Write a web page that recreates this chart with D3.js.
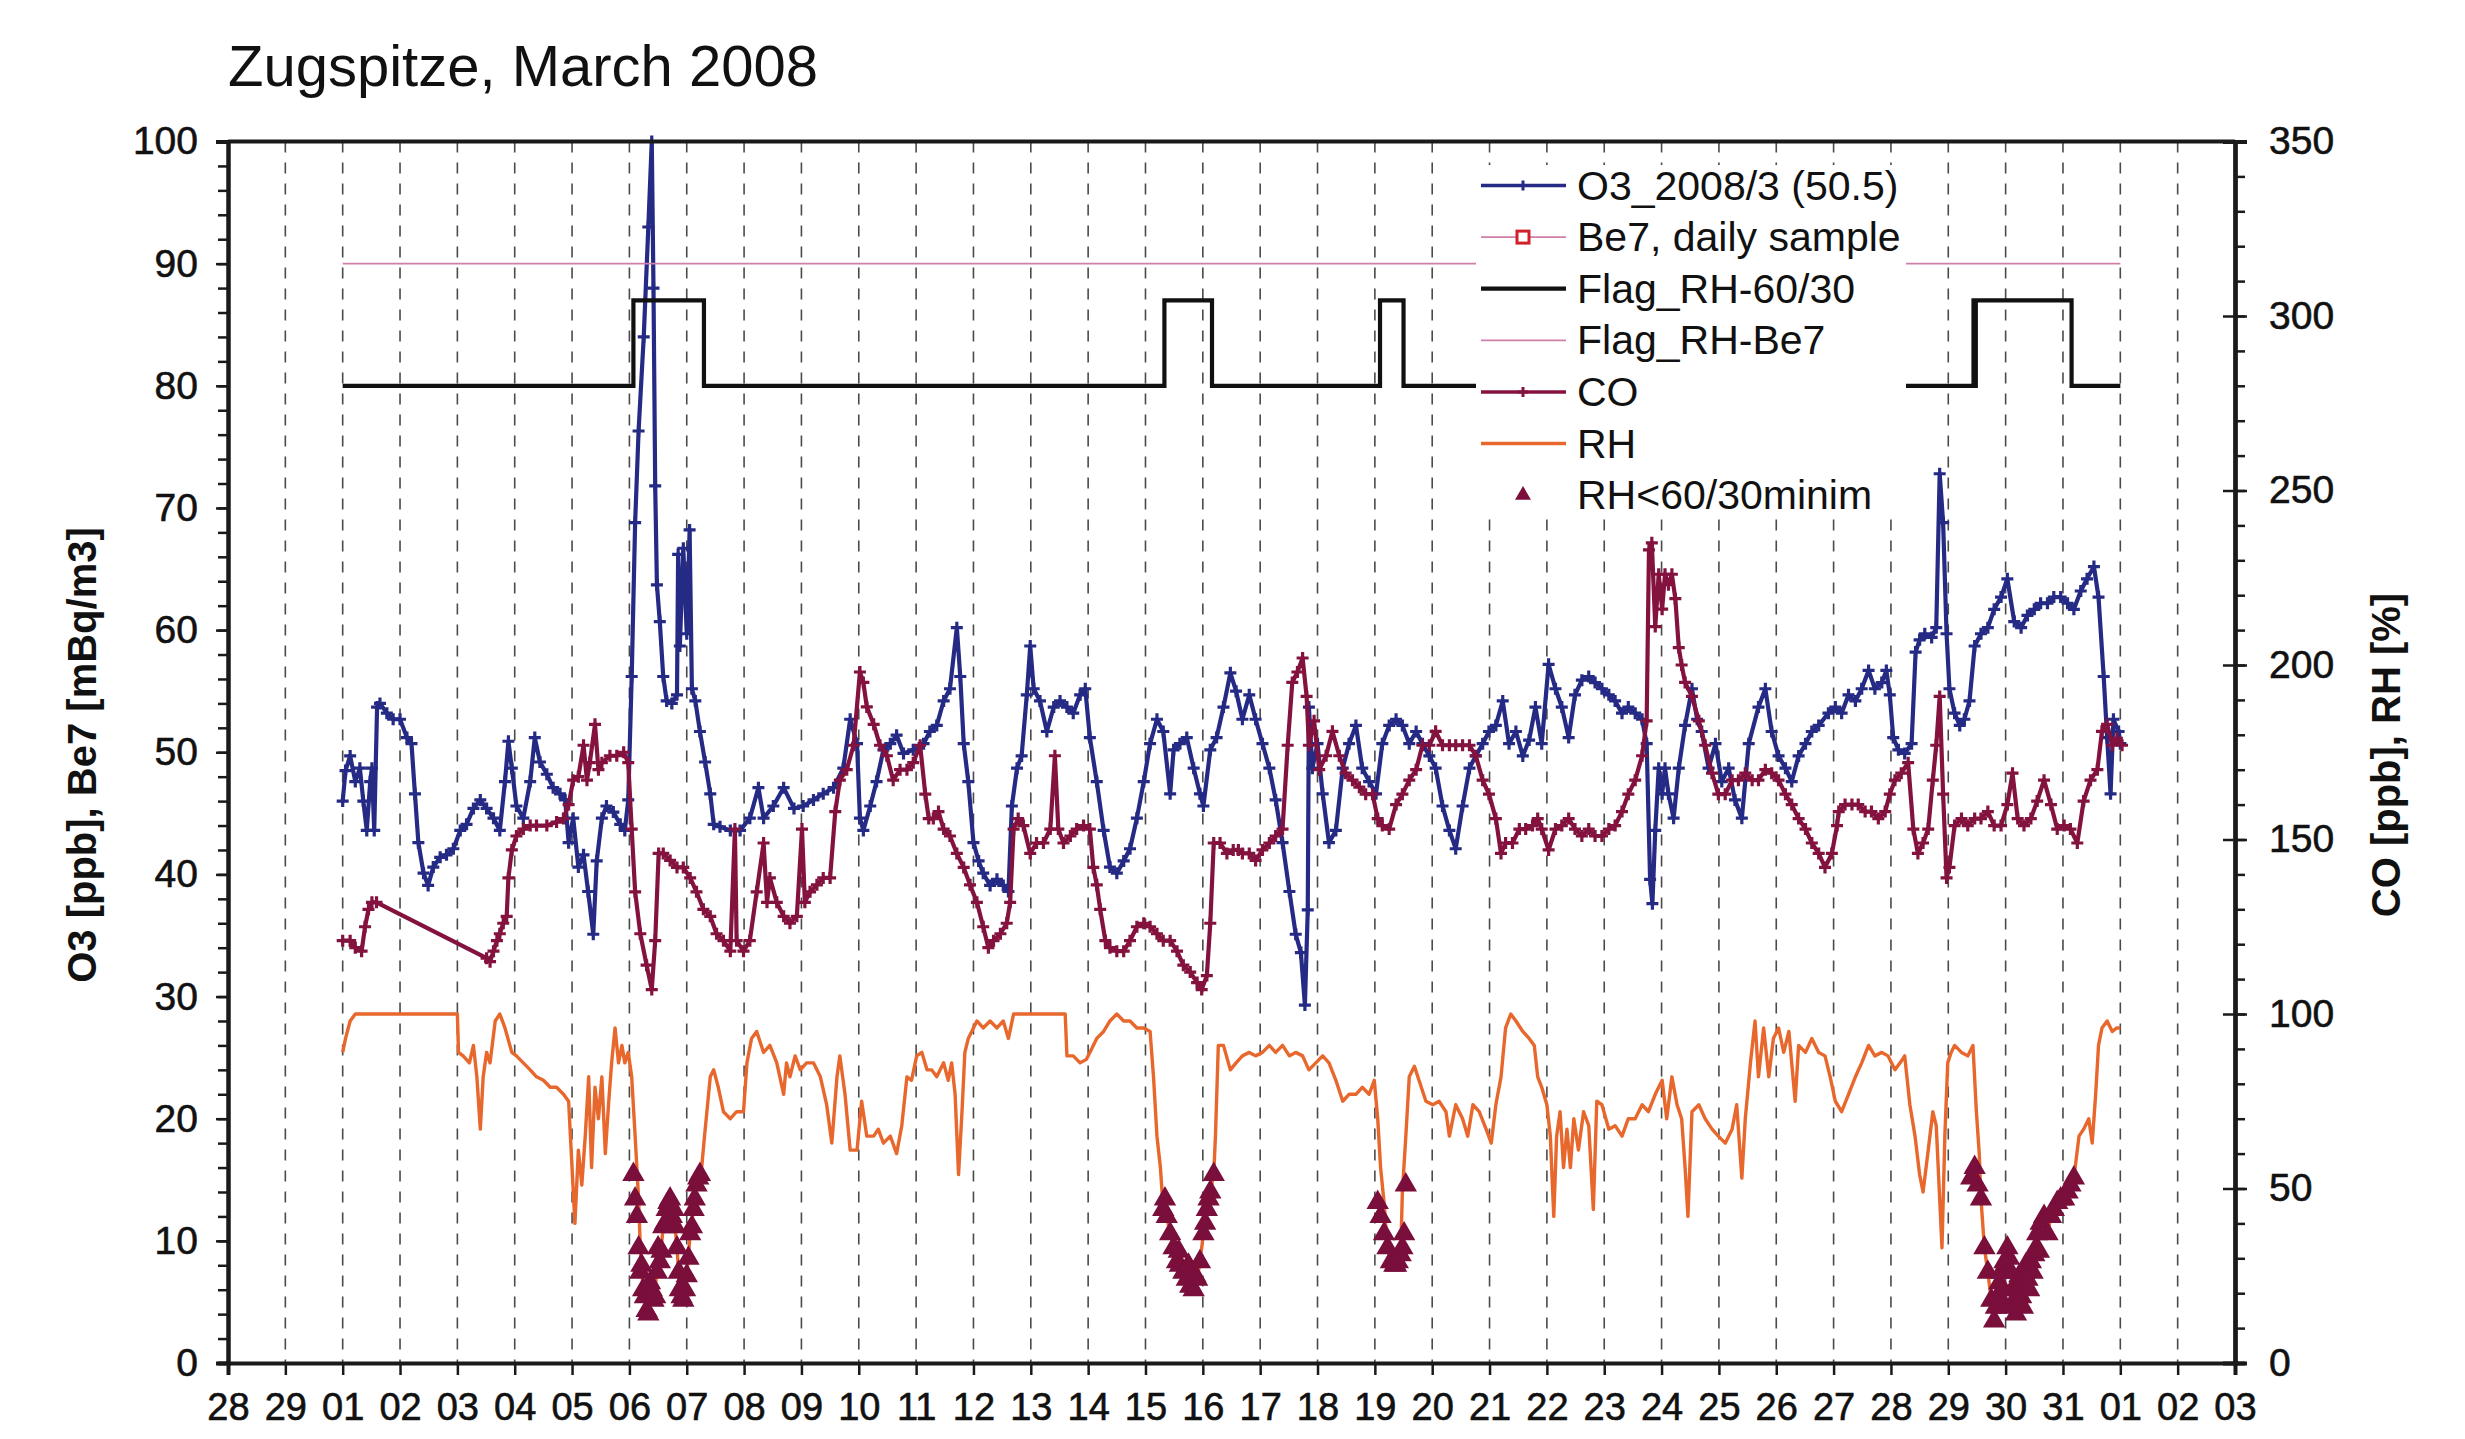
<!DOCTYPE html>
<html>
<head>
<meta charset="utf-8">
<script src="https://cdn.jsdelivr.net/npm/d3@7"></script>
<style>
  body { margin: 0; background: #ffffff; }
  text { font-family: "Liberation Sans", Arial, Helvetica, sans-serif; fill: #111; }
</style>
</head>
<body>
<svg id="chart" width="2465" height="1439"></svg>
<script>
// ---- Data (time as fractional March day: 1.0 = 1 March 00:00) ----
const dayLabels = ["28","29","01","02","03","04","05","06","07","08","09","10","11","12","13","14","15","16","17","18","19","20","21","22","23","24","25","26","27","28","29","30","31","01","02","03"];
const leftTicks = [0,10,20,30,40,50,60,70,80,90,100];
const rightTicks = [0,50,100,150,200,250,300,350];

// Ozone [ppb]
const o3 = [[1.00,46],[1.05,48.5],[1.13,49.7],[1.22,47.6],[1.30,48.7],[1.36,46],[1.42,43.6],[1.48,47.6],[1.51,48.7],[1.55,43.6],[1.60,53.7],[1.65,54],[1.77,53.2],[1.88,52.7],[2.00,52.7],[2.12,51.2],[2.20,50.7],[2.26,46.6],[2.32,42.6],[2.41,40.1],[2.49,39.1],[2.58,40.6],[2.70,41.4],[2.81,41.6],[2.93,42.1],[3.05,43.6],[3.16,44.1],[3.28,45.4],[3.40,46.1],[3.51,45.4],[3.63,44.6],[3.74,43.6],[3.83,47.6],[3.89,50.9],[3.95,48.7],[4.03,45.6],[4.15,44.6],[4.27,47.6],[4.35,51.2],[4.44,49.2],[4.56,48.2],[4.67,47.1],[4.79,46.6],[4.88,46.1],[4.94,42.6],[5.02,44.6],[5.11,40.6],[5.20,41.6],[5.28,38.6],[5.37,35.1],[5.43,41.1],[5.52,44.6],[5.60,45.6],[5.72,45.1],[5.84,44.1],[5.92,43.6],[5.98,46.1],[6.04,56.2],[6.10,68.8],[6.16,76.3],[6.25,84],[6.33,93],[6.39,100],[6.42,88],[6.45,71.8],[6.48,63.7],[6.53,60.7],[6.59,56.2],[6.65,54.2],[6.74,54],[6.83,54.7],[6.85,66.2],[6.88,58.7],[6.94,66.7],[7.00,59.7],[7.05,68.2],[7.09,55.2],[7.15,54.2],[7.23,51.7],[7.32,49.2],[7.41,46.6],[7.47,44.1],[7.58,43.9],[7.76,43.6],[7.93,43.6],[8.10,44.6],[8.25,47.1],[8.34,44.6],[8.51,45.6],[8.69,47.1],[8.87,45.4],[9.03,45.6],[9.21,46.1],[9.38,46.6],[9.56,47.1],[9.73,48.7],[9.85,52.7],[9.97,50.7],[10.02,44.6],[10.08,43.6],[10.20,45.6],[10.31,47.6],[10.43,50.2],[10.55,50.7],[10.66,51.4],[10.78,49.9],[10.95,50.2],[11.13,50.7],[11.24,51.7],[11.36,52.2],[11.48,54.2],[11.59,55.2],[11.71,60.2],[11.77,56.2],[11.83,50.7],[11.91,47.6],[12.00,42.6],[12.09,41.1],[12.17,40.1],[12.29,39.1],[12.41,39.6],[12.52,39.1],[12.61,38.6],[12.67,45.6],[12.76,48.7],[12.84,49.7],[12.93,54.7],[12.99,58.7],[13.05,55.2],[13.16,54.2],[13.28,51.7],[13.40,53.7],[13.51,54.2],[13.63,53.7],[13.74,53.2],[13.86,54.7],[13.95,55.2],[14.03,51.2],[14.15,47.6],[14.27,43.6],[14.38,40.6],[14.50,40.1],[14.62,41.1],[14.73,42.1],[14.85,44.6],[14.97,47.6],[15.08,50.7],[15.20,52.7],[15.31,51.7],[15.43,46.6],[15.49,50.2],[15.60,50.7],[15.72,51.2],[15.84,48.7],[15.95,46.6],[16.01,45.6],[16.13,50.2],[16.24,51.2],[16.36,53.7],[16.48,56.5],[16.58,55.0],[16.69,52.7],[16.81,54.7],[16.92,52.7],[17.04,50.7],[17.16,48.7],[17.27,46.1],[17.39,42.6],[17.51,38.6],[17.62,35.1],[17.71,33.6],[17.78,29.3],[17.83,37.1],[17.85,53.7],[17.91,48.7],[18.00,50.7],[18.09,46.6],[18.20,42.6],[18.32,43.6],[18.44,48.7],[18.55,50.7],[18.67,52.2],[18.78,48.7],[18.90,47.6],[19.02,46.6],[19.13,50.7],[19.25,52.2],[19.37,52.7],[19.48,52.2],[19.60,50.7],[19.72,51.7],[19.83,50.7],[19.95,49.7],[20.06,48.7],[20.18,45.6],[20.30,43.6],[20.41,42.1],[20.53,45.6],[20.65,48.7],[20.76,49.7],[20.88,50.7],[20.99,51.7],[21.11,52.2],[21.23,54.2],[21.34,50.7],[21.46,51.7],[21.58,49.7],[21.69,51.0],[21.80,53.7],[21.91,50.7],[22.03,57.2],[22.15,55.2],[22.26,53.7],[22.38,51.2],[22.49,54.7],[22.61,55.9],[22.73,56.2],[22.84,55.7],[22.96,55.2],[23.08,54.7],[23.19,54.2],[23.31,53.2],[23.42,53.7],[23.54,53.2],[23.66,52.7],[23.74,50.7],[23.80,39.6],[23.84,37.6],[23.89,43.6],[23.95,48.7],[24.01,46.6],[24.06,48.7],[24.12,46.6],[24.21,44.6],[24.30,48.7],[24.41,52.2],[24.53,55.2],[24.62,52.7],[24.70,51.7],[24.82,48.7],[24.94,50.7],[25.05,47.6],[25.17,48.7],[25.28,46.1],[25.40,44.6],[25.52,50.7],[25.69,53.7],[25.81,55.2],[25.92,51.7],[26.04,49.7],[26.16,48.7],[26.27,47.6],[26.39,49.7],[26.51,50.7],[26.62,51.7],[26.74,52.2],[26.91,53.2],[27.03,53.7],[27.14,53.2],[27.26,54.7],[27.38,54.2],[27.49,55.2],[27.61,56.7],[27.72,55.2],[27.84,55.7],[27.92,56.7],[27.98,54.7],[28.04,51.2],[28.13,50.2],[28.24,49.9],[28.36,50.7],[28.43,58.2],[28.50,59.2],[28.59,59.7],[28.71,59.4],[28.79,60.2],[28.85,72.8],[28.91,68.8],[28.97,59.7],[29.02,55.2],[29.11,53.2],[29.20,52.2],[29.28,52.7],[29.37,54.2],[29.46,58.7],[29.57,59.7],[29.69,60.2],[29.80,61.7],[29.92,62.7],[30.03,64.2],[30.15,60.7],[30.27,60.2],[30.38,61.2],[30.50,61.7],[30.61,62.2],[30.73,62.2],[30.84,62.7],[30.96,62.7],[31.08,62.2],[31.19,61.7],[31.31,63.2],[31.42,64.2],[31.54,65.2],[31.62,62.7],[31.71,56.2],[31.77,51.2],[31.83,46.6],[31.88,52.7],[31.97,51.7],[32.00,50.7]];

// Carbon monoxide [ppb]
const co = [[1.00,121],[1.13,121],[1.22,119],[1.33,118],[1.39,125],[1.45,130],[1.51,132],[1.59,132],[3.51,116],[3.57,115],[3.63,118],[3.69,121],[3.74,123],[3.80,126],[3.86,128],[3.89,139],[3.95,147],[4.03,151],[4.15,153],[4.27,154],[4.38,154],[4.56,154],[4.73,155],[4.85,156],[4.94,160],[5.02,167],[5.11,168],[5.20,177],[5.26,167],[5.31,172],[5.40,183],[5.46,170],[5.52,172],[5.66,174],[5.78,174],[5.90,175],[5.98,172],[6.04,153],[6.10,135],[6.19,123],[6.30,114],[6.39,107],[6.45,121],[6.51,146],[6.59,146],[6.71,144],[6.83,142],[6.94,142],[7.06,139],[7.17,135],[7.29,130],[7.41,128],[7.52,123],[7.64,121],[7.76,118],[7.84,153],[7.87,121],[7.99,118],[8.10,121],[8.22,135],[8.34,149],[8.40,132],[8.45,139],[8.57,132],[8.69,128],[8.80,126],[8.92,128],[9.01,153],[9.06,132],[9.15,135],[9.27,137],[9.38,139],[9.50,139],[9.59,158],[9.67,167],[9.79,170],[9.91,177],[10.02,198],[10.08,195],[10.14,188],[10.26,183],[10.37,177],[10.49,174],[10.60,167],[10.72,170],[10.84,170],[10.95,172],[11.07,177],[11.16,163],[11.22,156],[11.30,156],[11.39,158],[11.48,153],[11.59,151],[11.71,146],[11.83,142],[11.94,137],[12.06,132],[12.17,125],[12.26,119],[12.35,121],[12.47,123],[12.58,126],[12.64,132],[12.70,153],[12.78,156],[12.87,154],[12.99,146],[13.10,149],[13.22,149],[13.34,153],[13.42,174],[13.48,153],[13.57,149],[13.69,151],[13.80,153],[13.92,154],[14.03,153],[14.09,142],[14.15,137],[14.21,130],[14.30,121],[14.38,119],[14.50,118],[14.62,118],[14.73,121],[14.85,125],[14.97,126],[15.08,125],[15.20,123],[15.31,121],[15.43,121],[15.55,118],[15.66,114],[15.78,112],[15.90,109],[15.98,107],[16.07,111],[16.13,126],[16.19,149],[16.30,149],[16.42,146],[16.53,147],[16.62,147],[16.69,146],[16.81,146],[16.92,144],[17.04,147],[17.16,149],[17.27,151],[17.39,153],[17.48,177],[17.56,195],[17.65,198],[17.74,202],[17.81,191],[17.85,177],[17.94,184],[18.03,170],[18.15,174],[18.26,181],[18.38,174],[18.49,169],[18.61,167],[18.73,165],[18.84,163],[18.96,163],[19.05,156],[19.13,154],[19.25,153],[19.37,160],[19.48,163],[19.60,167],[19.72,170],[19.83,177],[19.95,177],[20.06,181],[20.18,177],[20.30,177],[20.41,177],[20.53,177],[20.65,177],[20.76,174],[20.88,167],[20.99,163],[21.11,156],[21.20,146],[21.28,149],[21.40,149],[21.52,153],[21.63,153],[21.75,154],[21.84,156],[21.91,153],[22.03,147],[22.15,153],[22.26,154],[22.38,156],[22.49,153],[22.61,151],[22.73,153],[22.84,151],[22.96,151],[23.08,153],[23.19,154],[23.31,158],[23.42,163],[23.54,167],[23.66,174],[23.74,184],[23.78,233],[23.83,235],[23.89,211],[23.95,226],[24.01,216],[24.06,226],[24.12,223],[24.18,226],[24.24,219],[24.30,205],[24.35,200],[24.41,195],[24.53,191],[24.65,184],[24.76,177],[24.88,169],[24.99,163],[25.11,163],[25.23,167],[25.34,167],[25.46,169],[25.58,167],[25.69,167],[25.81,170],[25.92,169],[26.04,167],[26.16,163],[26.27,160],[26.39,156],[26.51,153],[26.62,149],[26.74,146],[26.85,142],[26.97,146],[27.06,154],[27.09,158],[27.20,160],[27.32,160],[27.43,160],[27.55,158],[27.66,158],[27.78,156],[27.90,158],[27.98,163],[28.07,167],[28.18,169],[28.30,172],[28.39,153],[28.47,146],[28.56,149],[28.65,153],[28.73,167],[28.79,177],[28.85,191],[28.91,163],[28.97,139],[29.02,142],[29.11,154],[29.23,156],[29.34,154],[29.46,156],[29.57,156],[29.69,158],[29.80,154],[29.92,154],[30.03,160],[30.12,169],[30.21,156],[30.32,154],[30.44,156],[30.55,161],[30.67,167],[30.79,160],[30.90,153],[31.02,154],[31.13,153],[31.25,149],[31.36,161],[31.48,167],[31.60,170],[31.68,181],[31.77,183],[31.86,177],[31.94,179],[32.03,177]];

// Relative humidity [%]
const rh = [[1.00,89],[1.05,93],[1.13,98],[1.22,100],[3.00,100],[3.02,89],[3.10,88],[3.21,86],[3.28,91],[3.34,82],[3.40,67],[3.45,82],[3.51,89],[3.57,86],[3.66,98],[3.74,100],[3.83,96],[3.95,89],[4.03,88],[4.15,86],[4.27,84],[4.38,82],[4.50,81],[4.62,79],[4.73,79],[4.85,77],[4.94,75],[5.00,56],[5.05,40],[5.11,61],[5.17,51],[5.23,65],[5.29,82],[5.34,56],[5.40,79],[5.46,70],[5.52,82],[5.58,60],[5.64,75],[5.69,86],[5.75,96],[5.81,86],[5.87,91],[5.92,86],[5.98,89],[6.04,82],[6.10,65],[6.16,47],[6.19,33],[6.24,21],[6.30,15],[6.36,23],[6.42,18],[6.48,26],[6.53,29],[6.59,39],[6.65,44],[6.71,47],[6.77,44],[6.83,33],[6.88,21],[6.94,18],[7.00,25],[7.06,37],[7.12,44],[7.17,51],[7.23,54],[7.26,56],[7.31,65],[7.41,82],[7.47,84],[7.55,79],[7.64,72],[7.76,70],[7.87,72],[7.99,72],[8.05,86],[8.13,93],[8.22,95],[8.34,89],[8.45,91],[8.57,86],[8.69,77],[8.74,86],[8.80,82],[8.89,88],[8.98,84],[9.09,86],[9.21,86],[9.33,82],[9.44,74],[9.53,63],[9.62,82],[9.67,88],[9.76,77],[9.85,61],[9.97,61],[10.05,75],[10.14,65],[10.26,65],[10.34,67],[10.43,63],[10.55,65],[10.66,60],[10.75,68],[10.84,82],[10.92,81],[11.01,88],[11.10,89],[11.19,84],[11.27,84],[11.36,82],[11.48,86],[11.56,81],[11.62,86],[11.68,77],[11.74,54],[11.80,72],[11.85,89],[11.91,93],[12.00,96],[12.06,98],[12.17,96],[12.29,98],[12.41,96],[12.52,98],[12.61,93],[12.70,100],[13.60,100],[13.63,88],[13.74,88],[13.86,86],[13.97,87],[14.03,89],[14.15,93],[14.27,95],[14.38,98],[14.50,100],[14.62,98],[14.73,98],[14.85,96],[14.97,96],[15.08,95],[15.14,82],[15.20,65],[15.26,56],[15.31,44],[15.37,42],[15.43,37],[15.49,33],[15.55,29],[15.60,28],[15.66,26],[15.72,24],[15.78,22],[15.84,21],[15.90,24],[15.95,29],[16.01,37],[16.07,44],[16.13,49],[16.19,54],[16.22,65],[16.27,91],[16.36,91],[16.48,84],[16.58,86],[16.69,88],[16.81,89],[16.92,88],[17.04,89],[17.16,91],[17.27,89],[17.39,91],[17.51,88],[17.62,89],[17.74,88],[17.85,84],[17.97,86],[18.09,88],[18.20,86],[18.32,81],[18.44,75],[18.55,77],[18.67,77],[18.78,79],[18.90,77],[18.99,81],[19.05,70],[19.10,56],[19.16,46],[19.22,33],[19.28,29],[19.34,28],[19.40,29],[19.45,31],[19.48,49],[19.54,65],[19.60,82],[19.69,85],[19.77,81],[19.89,75],[20.01,74],[20.12,75],[20.24,72],[20.30,65],[20.41,74],[20.53,70],[20.62,65],[20.71,74],[20.82,72],[20.94,67],[21.03,63],[21.11,74],[21.20,82],[21.28,96],[21.37,100],[21.46,98],[21.58,95],[21.69,93],[21.78,91],[21.84,82],[21.91,79],[22.00,74],[22.06,65],[22.12,42],[22.17,65],[22.23,72],[22.29,56],[22.35,67],[22.41,56],[22.47,70],[22.55,61],[22.64,72],[22.73,68],[22.81,44],[22.87,75],[22.96,74],[23.08,67],[23.19,68],[23.31,65],[23.42,70],[23.54,70],[23.66,74],[23.77,72],[23.89,77],[24.01,81],[24.09,70],[24.18,82],[24.27,74],[24.35,70],[24.41,56],[24.46,42],[24.53,72],[24.65,74],[24.76,70],[24.88,67],[24.99,65],[25.11,63],[25.23,67],[25.31,74],[25.40,53],[25.46,70],[25.55,86],[25.63,98],[25.69,82],[25.78,96],[25.87,82],[25.95,93],[26.04,96],[26.13,89],[26.22,95],[26.33,75],[26.39,91],[26.51,89],[26.62,93],[26.74,89],[26.85,88],[26.94,82],[27.03,75],[27.14,72],[27.26,77],[27.38,82],[27.49,86],[27.61,91],[27.72,88],[27.84,89],[27.95,88],[28.07,84],[28.16,86],[28.24,88],[28.33,74],[28.42,65],[28.50,54],[28.56,49],[28.65,61],[28.73,72],[28.79,68],[28.85,47],[28.89,33],[28.94,65],[28.99,86],[29.05,89],[29.11,91],[29.23,89],[29.34,88],[29.43,91],[29.49,72],[29.54,60],[29.57,47],[29.63,33],[29.69,26],[29.75,18],[29.80,12],[29.86,19],[29.92,26],[29.98,29],[30.03,33],[30.09,26],[30.15,18],[30.21,23],[30.27,19],[30.32,26],[30.38,24],[30.44,29],[30.50,31],[30.55,37],[30.61,40],[30.67,42],[30.73,37],[30.79,42],[30.84,44],[30.90,46],[30.96,47],[31.02,47],[31.08,49],[31.13,51],[31.19,53],[31.28,65],[31.36,67],[31.45,70],[31.51,63],[31.57,77],[31.62,91],[31.68,96],[31.77,98],[31.86,95],[31.94,96],[32.00,96]];

// Hours with RH below 60 % (30-min minimum), RH [%]
const rhLow = [[6.07,54],[6.10,47],[6.13,42],[6.16,33],[6.19,26],[6.21,28],[6.24,21],[6.27,19],[6.30,15],[6.33,14],[6.36,23],[6.39,21],[6.42,18],[6.45,19],[6.48,26],[6.50,33],[6.53,29],[6.56,32],[6.59,39],[6.62,40],[6.65,44],[6.68,46],[6.71,47],[6.74,42],[6.77,44],[6.80,39],[6.83,33],[6.86,26],[6.88,21],[6.91,19],[6.94,18],[6.97,21],[7.00,25],[7.03,30],[7.06,37],[7.09,39],[7.12,44],[7.14,47],[7.17,51],[7.20,53],[7.23,54],
  [15.31,44],[15.34,47],[15.37,42],[15.43,37],[15.49,33],[15.55,29],[15.58,32],[15.60,28],[15.66,26],[15.72,24],[15.75,28],[15.78,22],[15.84,21],[15.87,25],[15.90,24],[15.95,29],[16.01,37],[16.04,40],[16.07,44],[16.10,47],[16.13,49],[16.19,54],
  [19.05,46],[19.10,42],[19.16,37],[19.22,33],[19.28,29],[19.34,28],[19.37,28],[19.40,29],[19.45,31],[19.48,33],[19.51,37],[19.54,51],
  [29.40,53],[29.46,56],[29.51,51],[29.57,47],[29.63,33],[29.69,26],[29.75,18],[29.80,12],[29.83,16],[29.86,19],[29.89,23],[29.92,26],[29.95,21],[29.98,29],[30.00,16],[30.03,33],[30.06,30],[30.09,26],[30.12,21],[30.15,18],[30.18,14],[30.21,23],[30.24,25],[30.27,19],[30.30,16],[30.32,26],[30.35,28],[30.38,24],[30.41,21],[30.44,29],[30.47,26],[30.50,31],[30.53,33],[30.55,37],[30.58,32],[30.61,40],[30.67,42],[30.73,37],[30.79,42],[30.84,44],[30.90,46],[30.96,47],[31.02,47],[31.08,49],[31.13,51],[31.19,53]];

// Flag series drawn on the left scale (step levels)
const flagRH = [[1.00,80],[6.07,87],[7.30,80],[15.33,87],[16.16,80],[19.09,87],[19.50,80],[29.44,87],[29.46,80],[29.48,87],[31.15,80],[32.00,80]];
const flagBe7 = [[1.00,90],[32.00,90]];
const be7Daily = []; // no daily samples available for this month

// ---- Layout ----
const svg = d3.select("#chart");
const M = { l: 228, r: 2235, t: 141.5, b: 1363 };
const toDate = d => new Date(Date.UTC(2008, 2, 1) + (d - 1) * 864e5);

const x = d3.scaleUtc()
  .domain([new Date(Date.UTC(2008, 1, 28)), new Date(Date.UTC(2008, 3, 3))])
  .range([M.l, M.r]);
const yL = d3.scaleLinear().domain([0, 100]).range([M.b, M.t]);
const yR = d3.scaleLinear().domain([0, 350]).range([M.b, M.t]);

const dayTicks = d3.utcDay.range(x.domain()[0], d3.utcDay.offset(x.domain()[1], 1));

// colours
const C = {
  o3: "#252a85",
  co: "#84123f",
  rh: "#e8672c",
  tri: "#7a0f3c",
  flag: "#111111",
  be7: "#cf7fa8",
  grid: "#4a4a4a",
  axis: "#1a1a1a"
};

// ---- Dashed day grid ----
svg.append("g")
  .selectAll("line")
  .data(dayTicks.slice(1, -1))
  .join("line")
  .attr("x1", d => x(d)).attr("x2", d => x(d))
  .attr("y1", M.t).attr("y2", M.b)
  .attr("stroke", C.grid)
  .attr("stroke-width", 1.6)
  .attr("stroke-dasharray", "11,10");

// ---- Series ----
const lineL = d3.line().x(d => x(toDate(d[0]))).y(d => yL(d[1]));
const lineR = d3.line().x(d => x(toDate(d[0]))).y(d => yR(d[1]));
const plusPath = "M-6,0H6M0,-6V6";

// O3 with plus markers
svg.append("path").datum(o3)
  .attr("d", lineL).attr("fill", "none")
  .attr("stroke", C.o3).attr("stroke-width", 4.2).attr("stroke-linejoin", "round");
svg.append("g").selectAll("path").data(o3).join("path")
  .attr("transform", d => `translate(${x(toDate(d[0]))},${yL(d[1])})`)
  .attr("d", plusPath).attr("stroke", C.o3).attr("stroke-width", 3.2).attr("fill", "none");

// flags
svg.append("path").datum(flagBe7)
  .attr("d", lineL).attr("fill", "none")
  .attr("stroke", C.be7).attr("stroke-width", 1.8);
svg.append("path").datum(flagRH)
  .attr("d", d3.line().curve(d3.curveStepAfter).x(d => x(toDate(d[0]))).y(d => yL(d[1])))
  .attr("fill", "none").attr("stroke", C.flag).attr("stroke-width", 4.2);

// CO with plus markers
svg.append("path").datum(co)
  .attr("d", lineR).attr("fill", "none")
  .attr("stroke", C.co).attr("stroke-width", 4.2).attr("stroke-linejoin", "round");
svg.append("g").selectAll("path").data(co).join("path")
  .attr("transform", d => `translate(${x(toDate(d[0]))},${yR(d[1])})`)
  .attr("d", plusPath).attr("stroke", C.co).attr("stroke-width", 3.2).attr("fill", "none");

// RH
svg.append("path").datum(rh)
  .attr("d", lineR).attr("fill", "none")
  .attr("stroke", C.rh).attr("stroke-width", 3.4).attr("stroke-linejoin", "round");

// low-RH triangles
const tri = d3.symbol().type(d3.symbolTriangle).size(170);
svg.append("g").selectAll("path").data(rhLow).join("path")
  .attr("transform", d => `translate(${x(toDate(d[0]))},${yR(d[1])})`)
  .attr("d", tri).attr("fill", C.tri).attr("stroke", C.tri).attr("stroke-width", 1.5);

// Be7 daily samples (red squares)
svg.append("g").selectAll("rect").data(be7Daily).join("rect")
  .attr("x", d => x(toDate(d[0])) - 5).attr("y", d => yL(d[1]) - 5)
  .attr("width", 10).attr("height", 10)
  .attr("fill", "none").attr("stroke", "#d0202a").attr("stroke-width", 2);

// ---- Axes ----
function styleAxis(g, fs) {
  g.select(".domain").attr("stroke", C.axis).attr("stroke-width", 4);
  g.selectAll(".tick line").attr("stroke", C.axis).attr("stroke-width", 2.5);
  g.selectAll(".tick text").attr("font-size", fs).attr("fill", "#111")
    .attr("stroke", "#111").attr("stroke-width", 0.6);
}

// left, minor then major
svg.append("g").attr("transform", `translate(${M.l},0)`)
  .call(d3.axisLeft(yL).tickValues(d3.range(0, 101, 2)).tickSize(10).tickFormat(""))
  .call(g => styleAxis(g, 0));
svg.append("g").attr("transform", `translate(${M.l},0)`)
  .call(d3.axisLeft(yL).tickValues(leftTicks).tickSize(12).tickPadding(18).tickFormat(d3.format("d")))
  .call(g => styleAxis(g, 39));

// right, minor then major (major ticks cross the axis)
svg.append("g").attr("transform", `translate(${M.r},0)`)
  .call(d3.axisRight(yR).tickValues(d3.range(0, 351, 10)).tickSize(10).tickFormat(""))
  .call(g => styleAxis(g, 0));
svg.append("g").attr("transform", `translate(${M.r},0)`)
  .call(d3.axisLeft(yR).tickValues(rightTicks).tickSize(12).tickFormat(""))
  .call(g => styleAxis(g, 0));
svg.append("g").attr("transform", `translate(${M.r},0)`)
  .call(d3.axisRight(yR).tickValues(rightTicks).tickSize(12).tickPadding(22).tickFormat(d3.format("d")))
  .call(g => styleAxis(g, 39));

// bottom
svg.append("g").attr("transform", `translate(0,${M.b})`)
  .call(d3.axisBottom(x).tickValues(dayTicks).tickSize(12).tickPadding(18)
    .tickFormat((d, i) => dayLabels[i]))
  .call(g => styleAxis(g, 38));

// top frame
svg.append("line")
  .attr("x1", M.l).attr("x2", M.r).attr("y1", M.t).attr("y2", M.t)
  .attr("stroke", C.axis).attr("stroke-width", 4);

// ---- Titles ----
svg.append("text")
  .attr("x", 228).attr("y", 86)
  .attr("font-size", 58)
  .text("Zugspitze, March 2008");

svg.append("text")
  .attr("transform", "translate(82,755) rotate(-90)")
  .attr("text-anchor", "middle").attr("dominant-baseline", "central")
  .attr("font-size", 40).attr("font-weight", "bold")
  .text("O3 [ppb], Be7 [mBq/m3]");

svg.append("text")
  .attr("transform", "translate(2386,755) rotate(-90)")
  .attr("text-anchor", "middle").attr("dominant-baseline", "central")
  .attr("font-size", 40).attr("font-weight", "bold")
  .text("CO [ppb], RH [%]");

// ---- Legend ----
const legendItems = [
  { label: "O3_2008/3 (50.5)", color: C.o3, width: 3.5, marker: "plus" },
  { label: "Be7, daily sample", color: C.be7, width: 1.8, marker: "square" },
  { label: "Flag_RH-60/30", color: C.flag, width: 4.2, marker: null },
  { label: "Flag_RH-Be7", color: C.be7, width: 1.8, marker: null },
  { label: "CO", color: C.co, width: 3.5, marker: "plus" },
  { label: "RH", color: C.rh, width: 3.4, marker: null },
  { label: "RH<60/30minim", color: C.tri, width: 0, marker: "triangle" }
];
const lg = svg.append("g");
lg.append("rect").attr("x", 1476).attr("y", 165).attr("width", 430).attr("height", 352).attr("fill", "#ffffff");
const rows = lg.selectAll("g.row").data(legendItems).join("g")
  .attr("transform", (d, i) => `translate(0,${185.5 + i * 51.6})`);
rows.filter(d => d.width > 0).append("line")
  .attr("x1", 1481).attr("x2", 1566).attr("y1", 0).attr("y2", 0)
  .attr("stroke", d => d.color).attr("stroke-width", d => d.width);
rows.filter(d => d.marker === "plus").append("path")
  .attr("transform", "translate(1523,0)").attr("d", "M-5,0H5M0,-5V5")
  .attr("stroke", d => d.color).attr("stroke-width", 3);
rows.filter(d => d.marker === "square").append("rect")
  .attr("x", 1517).attr("y", -6).attr("width", 12).attr("height", 12)
  .attr("fill", "#ffffff").attr("stroke", "#d0202a").attr("stroke-width", 3);
rows.filter(d => d.marker === "triangle").append("path")
  .attr("transform", "translate(1523,0)").attr("d", d3.symbol().type(d3.symbolTriangle).size(110))
  .attr("fill", d => d.color);
rows.append("text")
  .attr("x", 1577).attr("y", 0)
  .attr("dominant-baseline", "central")
  .attr("font-size", 41)
  .text(d => d.label);
</script>
</body>
</html>
